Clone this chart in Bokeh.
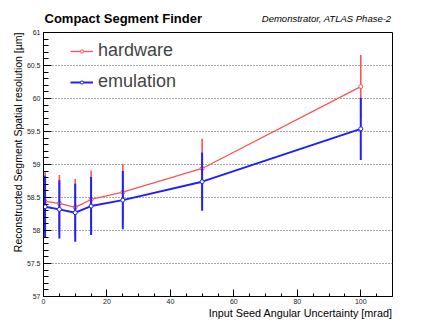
from bokeh.plotting import figure
from bokeh.layouts import column
from bokeh.models import (Range1d, FixedTicker, Label, Legend, LegendItem, ColumnDataSource, Title)
from bokeh.embed import file_html
from bokeh.resources import INLINE

# ---- data ----
seed_unc = [0.5, 5, 10, 15, 25, 50, 100]
hw_res = [58.44, 58.41, 58.35, 58.47, 58.58, 58.94, 60.18]
hw_err = [0.45, 0.43, 0.43, 0.44, 0.43, 0.45, 0.48]
emu_res = [58.36, 58.32, 58.27, 58.37, 58.46, 58.74, 59.54]
emu_err = [0.47, 0.44, 0.44, 0.44, 0.44, 0.44, 0.47]

y_ticks = [57, 57.5, 58, 58.5, 59, 59.5, 60, 60.5, 61]
y_tick_labels = ["57", "57.5", "58", "58.5", "59", "59.5", "60", "60.5", "61"]
x_ticks = [0, 20, 40, 60, 80, 100]
x_tick_labels = ["0", "20", "40", "60", "80", "100"]

series_names = ["hardware", "emulation"]
title_text = "Compact Segment Finder"
subtitle_text = "Demonstrator, ATLAS Phase-2"
x_title = "Input Seed Angular Uncertainty [mrad]"
y_title = "Reconstructed Segment Spatial resolution [\u00b5m]"

FONT = "Liberation Sans"
RED = "#ff5252"
BLUE = "#1f1fff"

HEADER_H = 26

# ---- header figure (title + subtitle) ----
head = figure(width=436, height=HEADER_H, output_backend="svg", toolbar_location=None,
              x_range=Range1d(0, 436), y_range=Range1d(0, HEADER_H),
              min_border=0, min_border_left=0, min_border_right=0,
              min_border_top=0, min_border_bottom=0)
head.axis.visible = False
head.grid.visible = False
head.outline_line_color = None
head.background_fill_color = "white"
head.border_fill_color = "white"
head.add_layout(Label(x=44, y=7.8, x_units="screen", y_units="screen", text=title_text,
                      text_font=FONT, text_font_style="bold", text_font_size="13px",
                      text_color="black", text_baseline="middle", text_align="left"))
head.add_layout(Label(x=391, y=7.7, x_units="screen", y_units="screen", text=subtitle_text,
                      text_font=FONT, text_font_style="italic", text_font_size="9.5px",
                      text_color="black", text_baseline="alphabetic", text_align="right"))

# ---- main figure ----
p = figure(width=436, height=330 - HEADER_H, output_backend="svg", toolbar_location=None,
           x_range=Range1d(0, 110), y_range=Range1d(57, 61),
           min_border_left=43, min_border_right=44, min_border_top=32 - HEADER_H,
           min_border_bottom=330 - 296)
p.background_fill_color = "white"
p.border_fill_color = "white"
p.outline_line_color = "black"
p.outline_line_width = 1

for fig in (head, p):
    if "frame_align" in fig.properties():
        fig.frame_align = False

# axes
p.xaxis.ticker = FixedTicker(ticks=x_ticks, minor_ticks=[i * 5 for i in range(23)])
p.yaxis.ticker = FixedTicker(ticks=y_ticks, minor_ticks=[57 + i * 0.1 for i in range(41)])
p.xaxis.major_label_overrides = {t: l for t, l in zip(x_ticks, x_tick_labels)}
p.yaxis.major_label_overrides = {t: l for t, l in zip(y_ticks, y_tick_labels)}
for ax in (p.xaxis[0], p.yaxis[0]):
    ax.axis_line_color = "black"
    ax.major_tick_line_color = "black"
    ax.minor_tick_line_color = "black"
    ax.major_tick_out = 0
    ax.minor_tick_out = 0
    ax.major_label_text_font = FONT
    ax.major_label_text_font_size = "7px"
    ax.major_label_text_color = "#222222"
p.xaxis.major_tick_in = 7
p.xaxis.minor_tick_in = 3
p.xaxis.major_label_standoff = 2
p.yaxis.major_tick_in = 8
p.yaxis.minor_tick_in = 5
p.yaxis.major_label_standoff = 3

p.xgrid.visible = False
p.ygrid.ticker = FixedTicker(ticks=y_ticks)
p.ygrid.grid_line_color = "#555555"
p.ygrid.grid_line_dash = "1 2"
p.ygrid.grid_line_width = 1

# axis titles
p.add_layout(Title(text=y_title, align="right", text_font=FONT, text_font_size="10.5px",
                   text_color="black", text_font_style="normal", standoff=0), "left")
p.add_layout(Title(text=x_title, align="right", text_font=FONT, text_font_size="10.8px",
                   text_color="black", text_font_style="normal", standoff=-3), "below")

# data sources
hw = ColumnDataSource(dict(x=seed_unc, y=hw_res,
                           lo=[v - e for v, e in zip(hw_res, hw_err)],
                           hi=[v + e for v, e in zip(hw_res, hw_err)]))
emu = ColumnDataSource(dict(x=seed_unc, y=emu_res,
                            lo=[v - e for v, e in zip(emu_res, emu_err)],
                            hi=[v + e for v, e in zip(emu_res, emu_err)]))

hw_line = p.line("x", "y", source=hw, line_color=RED, line_width=1.3)
p.segment(x0="x", y0="lo", x1="x", y1="hi", source=hw, line_color=RED, line_width=1.6)
hw_pts = p.scatter("x", "y", source=hw, marker="circle", size=4, line_color=RED,
                   fill_color="white", line_width=1)

emu_line = p.line("x", "y", source=emu, line_color=BLUE, line_width=2)
p.segment(x0="x", y0="lo", x1="x", y1="hi", source=emu, line_color=BLUE, line_width=2)
emu_pts = p.scatter("x", "y", source=emu, marker="circle", size=4, line_color=BLUE,
                    fill_color="white", line_width=1)

legend = Legend(items=[LegendItem(label=series_names[0], renderers=[hw_line, hw_pts]),
                       LegendItem(label=series_names[1], renderers=[emu_line, emu_pts])],
                location=(27, 204), padding=0, margin=0, spacing=10,
                glyph_width=23, glyph_height=8, label_height=21, label_standoff=5,
                label_text_font=FONT, label_text_font_size="18px",
                border_line_color=None, background_fill_alpha=0)
p.add_layout(legend)

layout = column(head, p, spacing=0)
open("out.html", "w").write(file_html(layout, INLINE))
